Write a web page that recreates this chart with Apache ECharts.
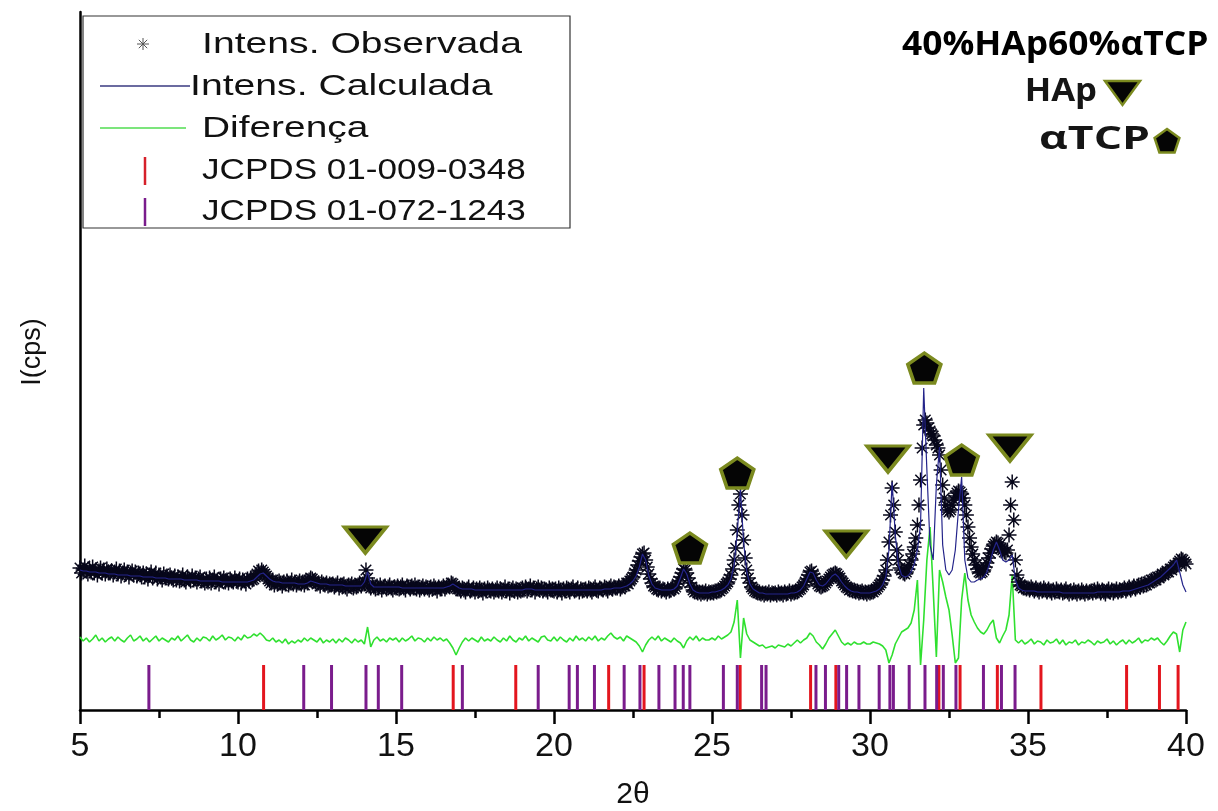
<!DOCTYPE html>
<html>
<head>
<meta charset="utf-8">
<script src="https://cdn.jsdelivr.net/npm/echarts@6/dist/echarts.min.js"></script>
<style>
  html, body { margin: 0; padding: 0; background: #fff; }
  #chart { width: 1218px; height: 811px; }
</style>
</head>
<body>
<div id="chart"></div>
<script>
// 2theta grid of the observed pattern: 5.00 .. 40.00, step 0.05
const obsStart = 5, obsStep = 0.05
const observed = [
  142,137,140,144,139,136,141,138,143,137,140,135,139,142,137,140,136,141,138,137,
  139,135,138,141,136,139,134,137,140,136,138,133,137,139,135,138,134,137,136,133,
  137,133,136,131,135,138,132,134,137,131,135,133,130,136,132,134,131,135,132,130,
  134,130,133,129,132,135,130,128,133,131,129,134,130,132,128,131,133,129,130,127,
  131,128,132,127,130,133,128,130,126,131,129,132,128,130,127,131,129,128,132,129,
  128,131,127,130,129,126,131,129,132,130,131,133,136,139,137,140,138,136,134,131,
  129,127,130,125,128,126,129,127,124,128,126,129,125,127,130,126,128,125,127,129,
  126,128,125,129,127,130,132,131,129,128,126,127,124,128,126,125,127,124,126,125,
  126,123,125,127,122,125,124,126,123,121,125,124,126,122,124,123,125,127,124,126,
  128,140,132,124,122,125,123,121,124,122,125,120,123,124,121,123,125,122,120,123,
  122,124,121,123,125,122,120,124,123,121,124,122,125,121,123,120,122,124,121,123,
  122,120,123,121,124,122,119,123,121,122,124,121,123,125,124,127,126,124,122,121,
  121,119,122,120,118,121,123,119,120,122,118,121,119,122,120,117,121,119,122,120,
  119,121,118,120,122,119,121,118,120,123,119,121,117,120,122,119,121,118,120,119,
  122,120,123,119,121,124,120,122,118,121,123,120,122,119,121,120,118,122,120,121,
  119,121,118,122,120,117,121,119,122,120,118,121,123,119,120,122,118,121,119,120,
  121,119,122,120,118,121,123,120,119,122,121,120,123,121,119,122,124,121,123,122,
  122,124,121,123,125,124,127,126,129,131,133,137,140,145,149,153,156,157,150,143,
  136,131,127,124,123,121,120,122,119,121,120,118,121,119,120,122,121,123,126,129,
  133,137,141,140,137,132,127,123,120,118,119,117,118,116,118,117,119,116,118,117,
  118,117,119,118,120,119,121,122,124,126,128,131,135,141,150,162,180,205,216,195,
  170,152,140,132,127,123,121,119,118,117,118,116,117,115,117,116,118,115,117,116,
  117,115,118,116,117,115,118,116,117,119,116,118,117,119,118,120,121,123,125,128,
  131,135,138,139,136,132,129,126,124,123,124,125,127,129,131,133,135,136,137,136,
  134,132,129,127,125,123,122,120,121,119,120,118,119,117,118,119,117,118,116,118,
  117,119,118,120,121,123,125,127,130,134,140,150,168,195,222,205,178,160,150,142,
  140,137,136,138,141,145,150,156,163,172,185,205,230,262,285,290,287,282,279,276,
  274,270,265,262,255,240,225,212,205,200,198,200,205,210,214,217,219,218,216,212,
  205,195,183,172,163,156,150,145,141,138,137,138,140,143,147,152,157,161,164,166,
  168,167,165,162,160,158,157,160,175,205,228,190,150,135,128,125,124,122,123,121,
  122,120,123,121,119,122,120,118,121,119,122,120,118,121,119,117,120,118,121,119,
  118,120,117,119,121,118,116,119,117,120,118,116,119,117,120,118,116,119,117,118,
  119,117,120,118,121,119,117,120,118,116,119,121,118,120,117,119,121,118,120,119,
  120,122,119,121,123,120,122,124,121,123,125,123,126,124,127,125,128,127,130,129,
  131,130,133,132,134,136,135,137,139,138,141,140,143,145,144,147,149,151,150,148,
  146
]

// calculated and difference curves: 5.0 .. 40.0, step 0.1
const calcStart = 5, calcStep = 0.1
const calculated = [
  140,139,139,138,138,138,137,137,137,136,
  136,136,135,135,135,135,134,134,134,134,
  133,133,133,133,132,132,132,132,131,131,
  131,131,131,130,130,130,130,130,129,129,
  129,129,129,129,129,128,128,128,128,128,
  128,128,128,128,129,130,133,136,137,134,
  131,129,128,128,127,127,127,127,127,126,
  126,126,127,129,128,127,126,126,126,125,
  125,125,125,125,124,124,124,124,124,124,
  128,138,126,123,123,123,123,123,123,123,
  123,123,122,122,122,122,122,122,122,122,
  122,122,122,122,122,122,123,124,126,124,
  122,121,121,121,121,120,120,120,120,120,
  120,120,120,120,120,120,120,120,120,120,
  120,121,121,121,120,120,120,120,120,120,
  120,120,120,120,120,120,120,120,120,120,
  120,120,120,120,120,120,121,121,121,122,
  122,122,123,124,126,129,134,143,156,150,
  134,126,122,121,120,120,120,120,121,124,
  132,141,136,126,120,118,117,117,117,117,
  118,118,119,120,122,125,131,145,178,220,
  168,138,126,121,119,117,117,116,116,116,
  116,116,116,116,116,117,117,118,120,124,
  131,138,137,130,125,124,126,130,134,136,
  133,128,124,121,119,118,118,117,117,117,
  117,118,119,121,125,133,160,228,175,145,
  135,133,134,138,146,160,185,322,240,165,
  150,225,263,165,140,135,140,160,200,233,
  150,132,128,128,130,131,133,138,148,160,
  168,160,150,148,150,155,130,122,120,119,
  119,119,119,118,118,118,118,118,118,118,
  118,117,117,117,117,117,117,117,117,117,
  117,117,118,118,118,118,118,118,118,118,
  119,119,119,120,121,122,123,124,125,127,
  129,131,133,136,139,142,145,150,138,125,
  118
]
const difference = [
  73,69,72,68,71,75,69,72,68,71,
  73,69,73,70,68,72,75,69,71,74,
  69,72,68,71,74,69,72,70,68,72,
  70,74,69,72,75,70,68,72,69,73,
  72,69,74,70,72,75,70,73,72,69,
  73,70,75,72,73,76,74,77,74,70,
  69,72,68,70,67,71,66,69,67,70,
  68,72,69,72,70,68,72,67,70,68,
  71,67,71,68,72,70,67,71,68,70,
  66,83,63,70,73,69,71,68,72,70,
  72,68,72,69,71,74,69,72,71,68,
  72,69,73,70,72,69,71,67,62,55,
  62,68,72,69,72,70,68,73,69,71,
  69,73,70,68,72,69,74,70,68,72,
  70,74,69,72,70,68,73,74,70,69,
  73,69,73,70,68,72,69,74,70,72,
  69,73,70,74,69,72,70,74,77,73,
  71,73,69,74,72,70,68,64,58,65,
  70,73,70,74,69,72,70,68,72,69,
  67,62,69,73,70,74,69,72,70,70,
  72,70,74,71,73,75,78,88,110,52,
  92,76,70,68,66,64,65,62,63,64,
  62,65,64,63,66,64,67,70,67,70,
  72,77,74,68,65,61,66,72,76,80,
  74,68,65,67,65,68,66,66,68,66,
  66,68,67,66,64,60,47,55,66,72,
  78,80,82,87,100,130,45,90,150,183,
  120,53,140,128,113,100,75,47,52,110,
  137,110,95,88,82,78,76,80,86,90,
  72,67,74,80,95,135,70,67,70,66,
  68,71,66,69,68,65,70,67,68,71,
  66,70,65,68,67,70,65,68,67,70,
  68,65,69,67,68,71,66,69,65,68,
  70,66,70,67,69,72,67,70,69,72,
  70,72,68,65,69,74,78,76,58,80,
  88
]

// reference reflections (2theta)
const hapRefs = [10.81, 16.81, 18.79, 21.73, 22.85, 25.89, 28.12, 28.92, 32.18, 32.85, 34.03, 35.41, 38.12, 39.16, 39.75]
const tcpRefs = [7.18, 12.08, 12.96, 14.05, 14.44, 15.18, 17.10, 19.50, 20.48, 20.74, 21.28, 22.22, 22.72,
  23.32, 23.83, 24.09, 24.30, 25.36, 25.80, 26.57, 26.71, 28.29, 28.59, 29.01, 29.26, 29.65, 30.29,
  30.63, 30.74, 31.24, 31.74, 32.11, 32.32, 32.72, 33.59, 34.16, 34.59]

// phase markers above the peaks
const hapMarks = [[14.03, 170], [29.25, 166], [30.57, 251], [34.43, 262]]
const tcpMarks = [[24.3, 162], [25.8, 237], [31.72, 342], [32.9, 250]]

const tickTop = 45

const asterisk = 'path://M0,-10L0,10M-10,0L10,0M-7,-7L7,7M-7,7L7,-7'
const triangleDown = 'path://M0,0L20,0L10,12Z'
const pentagon = 'path://M50,0L97.6,34.5L79.4,90.5L20.6,90.5L2.4,34.5Z'
const markBorder = '#7b8a1f'

const obsData = observed.map((v, i) => [+(obsStart + i * obsStep).toFixed(2), v])
const calcData = calculated.map((v, i) => [+(calcStart + i * calcStep).toFixed(1), v])
const diffData = difference.map((v, i) => [+(calcStart + i * calcStep).toFixed(1), v])

function refSeries (name, list, color) {
  return {
    name: name,
    type: 'custom',
    silent: true,
    z: 2,
    data: list.map(x => [x, 0]),
    encode: { x: 0, y: 1 },
    renderItem: function (params, api) {
      const a = api.coord([api.value(0), 0])
      const b = api.coord([api.value(0), tickTop])
      return {
        type: 'line',
        shape: { x1: a[0], y1: a[1], x2: b[0], y2: b[1] },
        style: { stroke: color, lineWidth: 3 }
      }
    }
  }
}

const font = '"Liberation Sans", Arial, sans-serif'
function legendText (text, x, y, sx) {
  return {
    type: 'text', x: x, y: y, scaleX: sx, z: 21,
    style: { text: text, font: '29px ' + font, fill: '#111', textVerticalAlign: 'middle', verticalAlign: 'middle' }
  }
}
function legendLine (x1, y1, x2, y2, color, w) {
  return { type: 'line', z: 21, shape: { x1: x1, y1: y1, x2: x2, y2: y2 }, style: { stroke: color, lineWidth: w } }
}

const myChart = echarts.init(document.getElementById('chart'))
const option = {
  animation: false,
  backgroundColor: '#fff',
  grid: { left: 80, right: 32, top: 12, bottom: 101, outerBoundsMode: 'none' },
  xAxis: {
    type: 'value',
    min: 5,
    max: 40,
    interval: 5,
    name: '2θ',
    nameLocation: 'middle',
    nameGap: 70,
    nameTextStyle: { fontSize: 30, color: '#111', fontFamily: font },
    axisLine: { lineStyle: { color: '#000', width: 2.5 } },
    axisTick: { length: 14, lineStyle: { color: '#000', width: 2.5 } },
    minorTick: { show: true, splitNumber: 2, length: 8, lineStyle: { color: '#000', width: 2.5 } },
    axisLabel: { fontSize: 34, color: '#111', fontFamily: font, margin: 20 },
    splitLine: { show: false }
  },
  yAxis: {
    type: 'value',
    min: 0,
    max: 698,
    name: 'I(cps)',
    nameLocation: 'middle',
    nameGap: 34,
    nameTextStyle: { fontSize: 27, color: '#111', fontFamily: font, padding: [0, 0, 0, 18] },
    axisLine: { show: true, lineStyle: { color: '#000', width: 2.5 } },
    axisTick: { show: false },
    axisLabel: { show: false },
    splitLine: { show: false }
  },
  series: [
    refSeries('JCPDS 01-009-0348', hapRefs, '#e3161e'),
    refSeries('JCPDS 01-072-1243', tcpRefs, '#7a1c8c'),
    {
      name: 'Diferença',
      type: 'line',
      data: diffData,
      showSymbol: false,
      z: 3,
      lineStyle: { color: '#2fe02f', width: 1.6 }
    },
    {
      name: 'Intens. Observada',
      type: 'scatter',
      data: obsData,
      symbol: asterisk,
      symbolSize: 15,
      z: 4,
      itemStyle: { color: 'rgba(0,0,0,0)', borderColor: '#07071a', borderWidth: 1.5, opacity: 1 }
    },
    {
      name: 'Intens. Calculada',
      type: 'line',
      data: calcData,
      showSymbol: false,
      z: 5,
      lineStyle: { color: '#24248a', width: 1.2 }
    },
    {
      name: 'HAp',
      type: 'scatter',
      data: hapMarks,
      symbol: triangleDown,
      symbolSize: [42, 26],
      z: 6,
      itemStyle: { color: '#050505', borderColor: markBorder, borderWidth: 3.5, opacity: 1 }
    },
    {
      name: 'αTCP',
      type: 'scatter',
      data: tcpMarks,
      symbol: pentagon,
      symbolSize: [33, 30],
      z: 6,
      itemStyle: { color: '#050505', borderColor: markBorder, borderWidth: 3.5, opacity: 1 }
    }
  ],
  graphic: {
    elements: [
      // legend box
      {
        type: 'rect', z: 20,
        shape: { x: 83, y: 16, width: 487, height: 212 },
        style: { fill: '#fff', stroke: '#333', lineWidth: 1.2 }
      },
      legendLine(137, 44, 149, 44, '#555', 1),
      legendLine(143, 38, 143, 50, '#555', 1),
      legendLine(138.8, 39.8, 147.2, 48.2, '#555', 1),
      legendLine(138.8, 48.2, 147.2, 39.8, '#555', 1),
      legendLine(100, 86, 190, 86, '#3a3a80', 1.3),
      legendLine(100, 128, 186, 128, '#50dd50', 1.3),
      legendLine(145, 157, 145, 185, '#d6202a', 2.5),
      legendLine(145, 198, 145, 226, '#7a1c8c', 2.5),
      legendText('Intens. Observada', 202, 45, 1.35),
      legendText('Intens. Calculada', 190, 87, 1.35),
      legendText('Diferença', 202, 129, 1.34),
      legendText('JCPDS 01-009-0348', 202, 171, 1.21),
      legendText('JCPDS 01-072-1243', 202, 212, 1.21),
      // sample annotation, top right
      {
        type: 'text', x: 902, y: 45, scaleX: 1.04, z: 21,
        style: { text: '40%HAp60%αTCP', font: 'bold 34px "Open Sans", sans-serif', fill: '#000', textVerticalAlign: 'middle', verticalAlign: 'middle' }
      },
      {
        type: 'text', x: 1097, y: 92, scaleX: 1.05, z: 21,
        style: { text: 'HAp', font: 'bold 33px "Open Sans", sans-serif', fill: '#151515', textAlign: 'right', align: 'right', textVerticalAlign: 'middle', verticalAlign: 'middle' }
      },
      {
        type: 'polygon', z: 21,
        shape: { points: [[1105, 81], [1140, 81], [1122.5, 105]] },
        style: { fill: '#050505', stroke: markBorder, lineWidth: 2.5 }
      },
      {
        type: 'text', x: 1150, y: 140, scaleX: 1.35, z: 21,
        style: { text: 'αTCP', font: 'bold 33px "Open Sans", sans-serif', fill: '#151515', textAlign: 'right', align: 'right', textVerticalAlign: 'middle', verticalAlign: 'middle' }
      },
      {
        type: 'polygon', z: 21,
        shape: { points: [[1167, 129], [1179.4, 138], [1174.6, 152.5], [1159.4, 152.5], [1154.6, 138]] },
        style: { fill: '#050505', stroke: markBorder, lineWidth: 2.5 }
      }
    ]
  }
}
myChart.setOption(option)
</script>
</body>
</html>
